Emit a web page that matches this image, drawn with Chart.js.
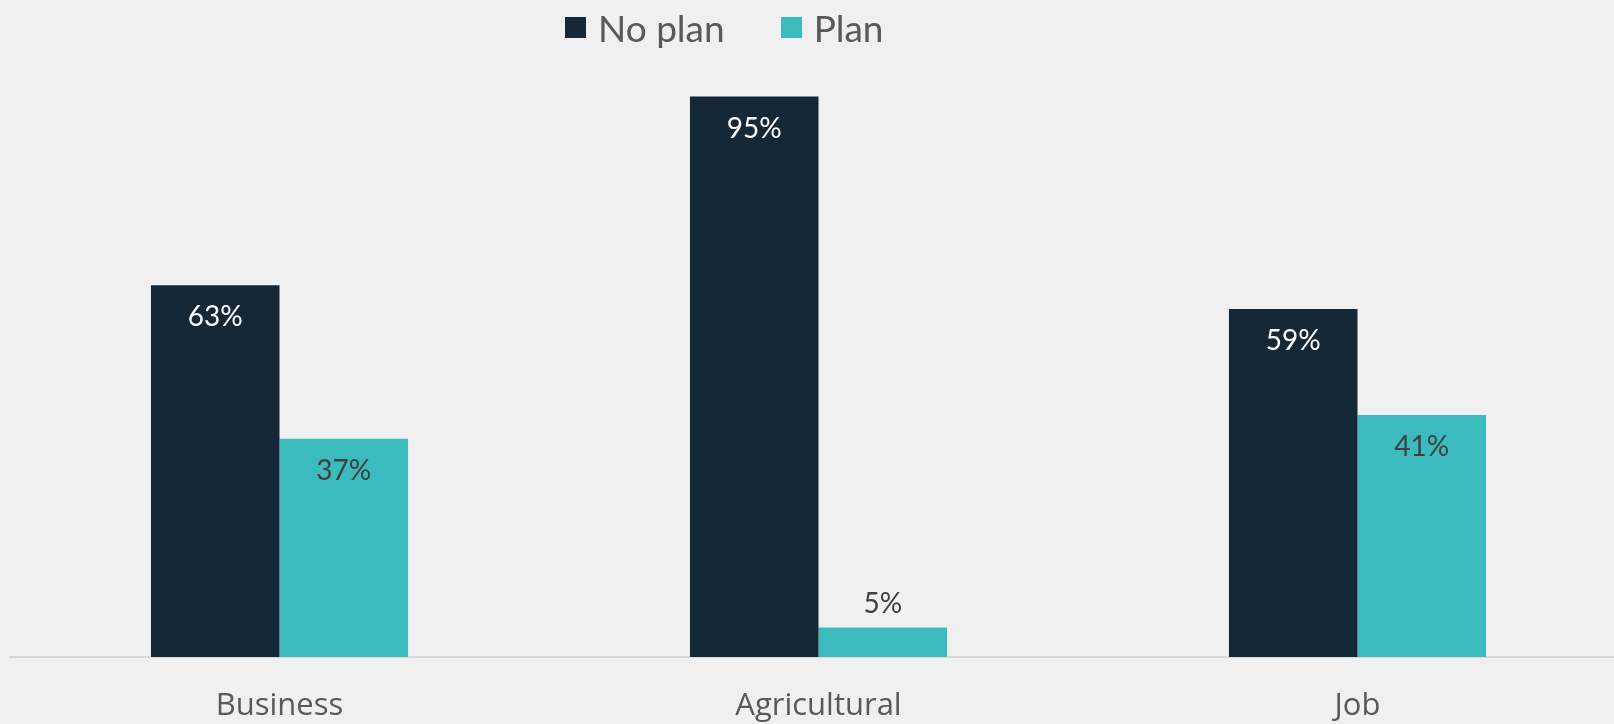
<!DOCTYPE html>
<html>
<head>
<meta charset="utf-8">
<script src="https://cdn.jsdelivr.net/npm/chart.js@4.4.1/dist/chart.umd.min.js"></script>
<style>
  html, body { margin: 0; padding: 0; background: #f0f0f0; overflow: hidden; }
  #wrap { position: relative; width: 1637px; height: 724px; }
  #plan-chart { display: block; }
  #legend { position: absolute; left: 565px; top: 0; height: 54px; display: flex; align-items: center;
            font: 37px Lato, sans-serif; color: #595959; }
  #legend .item { display: flex; align-items: center; margin-right: 56px; }
  #legend .box { width: 21px; height: 21px; margin-right: 12px; }
</style>
</head>
<body>
<div id="wrap">
  <canvas id="plan-chart" width="1637" height="724"></canvas>
  <div id="legend"></div>
</div>
<script>
const categories = ['Business', 'Agricultural', 'Job'];
const seriesNames = ['No plan', 'Plan'];
const noPlan = [63, 95, 59];
const plan = [37, 5, 41];
const seriesColors = ['#142837', '#3bbbbe'];

const planchart = document.getElementById('plan-chart');

// percentage labels drawn at the top of each bar
const barLabels = {
  id: 'barLabels',
  afterDatasetsDraw(chart) {
    const ctx = chart.ctx;
    ctx.save();
    ctx.font = '28px Lato';
    ctx.textAlign = 'center';
    ctx.textBaseline = 'middle';
    chart.data.datasets.forEach((ds, i) => {
      chart.getDatasetMeta(i).data.forEach((bar, j) => {
        const v = ds.data[j];
        const h = bar.base - bar.y;
        let y, color;
        if (h > 60) {
          y = bar.y + 32;
          color = i === 0 ? '#ffffff' : '#404040';
        } else {
          y = bar.y - 24;
          color = '#404040';
        }
        ctx.fillStyle = color;
        ctx.fillText(v + '%', bar.x, y);
      });
    });
    ctx.restore();
  }
};

const chart = new Chart(planchart, {
  type: 'bar',
  data: {
    labels: categories,
    datasets: [{
      label: seriesNames[0],
      data: noPlan,
      backgroundColor: seriesColors[0],
      categoryPercentage: 0.477,
      barPercentage: 1.0
    }, {
      label: seriesNames[1],
      data: plan,
      backgroundColor: seriesColors[1],
      categoryPercentage: 0.477,
      barPercentage: 1.0
    }]
  },
  options: {
    responsive: false,
    animation: false,
    layout: {
      padding: { left: 10, right: 10, top: 67, bottom: 0 }
    },
    plugins: {
      legend: { display: false },
      tooltip: { enabled: false }
    },
    scales: {
      x: {
        grid: { display: false, drawTicks: false },
        border: { color: '#d9d9d9', width: 2 },
        afterFit(scale) { scale.height = 67; },
        ticks: {
          color: '#595959',
          padding: 31,
          font: { family: 'Open Sans', size: 31 }
        }
      },
      y: {
        display: false,
        min: 0,
        max: 100
      }
    }
  },
  plugins: [barLabels]
});

// html legend built from the datasets
const legend = document.getElementById('legend');
chart.data.datasets.forEach(ds => {
  const item = document.createElement('div');
  item.className = 'item';
  const box = document.createElement('span');
  box.className = 'box';
  box.style.background = ds.backgroundColor;
  const text = document.createElement('span');
  text.textContent = ds.label;
  item.appendChild(box);
  item.appendChild(text);
  legend.appendChild(item);
});
</script>
</body>
</html>
